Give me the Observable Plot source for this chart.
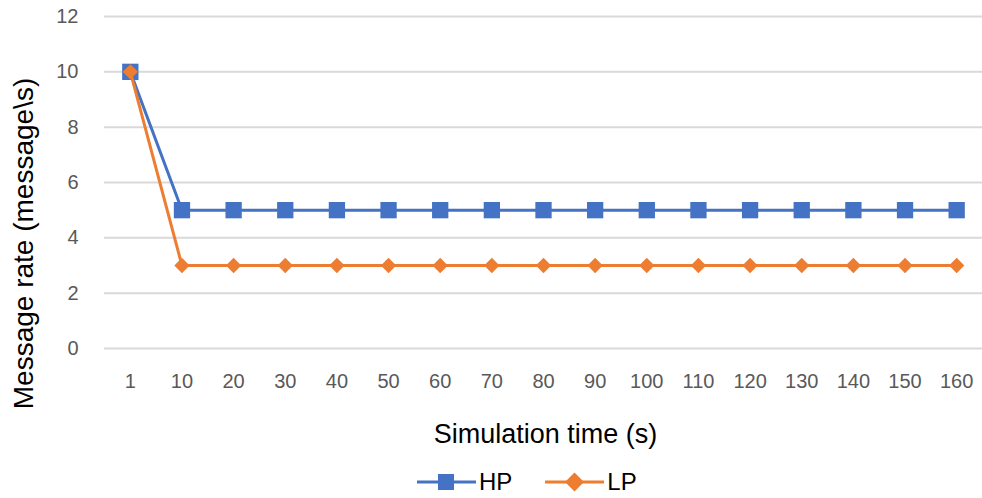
<!DOCTYPE html>
<html>
<head>
<meta charset="utf-8">
<script src="https://cdn.jsdelivr.net/npm/d3@7"></script>
<script src="https://cdn.jsdelivr.net/npm/@observablehq/plot@0.6"></script>
<style>
  html, body { margin: 0; padding: 0; background: #fff; }
  body { width: 982px; height: 498px; overflow: hidden; font-family: "Liberation Sans", Arial, sans-serif; }
  #chart svg { display: block; }
  #legend { height: 32px; display: flex; justify-content: flex-start; align-items: center; gap: 33px; padding-left: 417px; font-size: 24px; color: #000; }
  #legend .item { display: flex; align-items: center; gap: 3px; }
  #legend svg { display: block; }
</style>
</head>
<body>
<div id="chart"></div>
<div id="legend"></div>
<script>
const categories = ["1","10","20","30","40","50","60","70","80","90","100","110","120","130","140","150","160"];
const hpValues = [10,5,5,5,5,5,5,5,5,5,5,5,5,5,5,5,5];
const lpValues = [10,3,3,3,3,3,3,3,3,3,3,3,3,3,3,3,3];
const yTicks = [0,2,4,6,8,10,12];
const seriesNames = ["HP","LP"];
const colors = {HP: "#4472C4", LP: "#ED7D31"};

const hp = categories.map((c,i) => ({x: c, y: hpValues[i], s: "HP"}));
const lp = categories.map((c,i) => ({x: c, y: lpValues[i], s: "LP"}));

const chart = Plot.plot({
  width: 982,
  height: 466,
  marginLeft: 104,
  marginRight: 0,
  marginTop: 16,
  marginBottom: 118,
  style: {fontFamily: "'Liberation Sans', Arial, sans-serif", fontSize: "20px", background: "#fff"},
  x: {type: "point", domain: categories, padding: 0.5, round: false, label: null},
  y: {domain: [0, 12], label: null},
  marks: [
    Plot.gridY(yTicks, {stroke: "#d9d9d9", strokeOpacity: 1, strokeWidth: 2}),
    Plot.axisY(yTicks, {tickSize: 0, tickPadding: 26, fill: "#595959", fontSize: 20, label: null}),
    Plot.axisX({tickSize: 0, tickPadding: 25, fill: "#595959", fontSize: 20, label: null}),
    Plot.text(["Simulation time (s)"], {frameAnchor: "bottom", textAnchor: "middle", lineAnchor: "middle", dy: 86, dx: 2, fontSize: 27, fill: "#000"}),
    Plot.text(["Message rate (message\\s)"], {frameAnchor: "left", textAnchor: "middle", lineAnchor: "middle", dx: -80, dy: 61, rotate: -90, fontSize: 28, fill: "#000"}),
    Plot.line(hp, {x: "x", y: "y", stroke: colors.HP, strokeWidth: 3}),
    Plot.dot(hp, {x: "x", y: "y", symbol: "square", r: 9.2, fill: colors.HP, stroke: null}),
    Plot.line(lp, {x: "x", y: "y", stroke: colors.LP, strokeWidth: 3}),
    Plot.dot(lp, {x: "x", y: "y", symbol: "diamond2", r: 6.9, fill: colors.LP, stroke: null})
  ]
});
document.getElementById("chart").appendChild(chart);

const legend = document.getElementById("legend");
for (const name of seriesNames) {
  const item = document.createElement("div");
  item.className = "item";
  const marker = name === "HP"
    ? `<rect x="21" y="4" width="16" height="16" fill="${colors[name]}"/>`
    : `<path d="M29.5 2.5 L39 12 L29.5 21.5 L20 12 Z" fill="${colors[name]}"/>`;
  item.innerHTML = `<svg width="59" height="24"><line x1="0" x2="59" y1="12" y2="12" stroke="${colors[name]}" stroke-width="3"/>${marker}</svg><span>${name}</span>`;
  legend.appendChild(item);
}
</script>
</body>
</html>
